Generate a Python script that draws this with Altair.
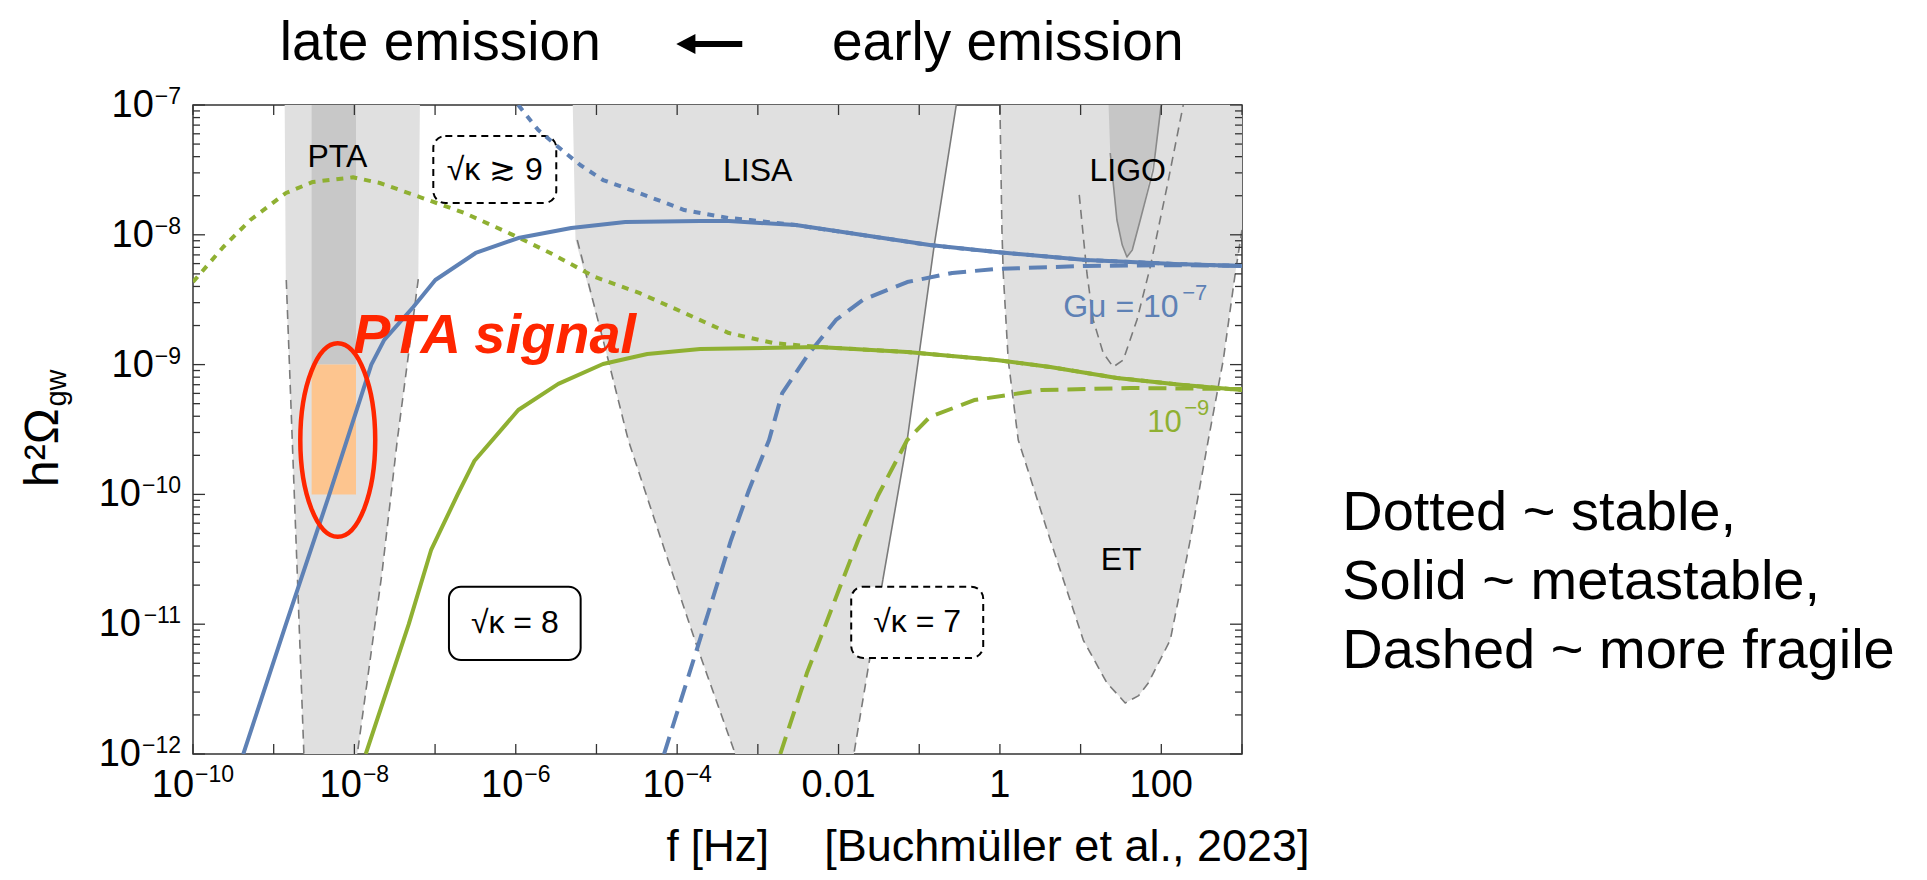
import altair as alt
import numpy as np
import pandas as pd

FONT = "Liberation Sans"
BLUE = "#5e81b5"
GREEN = "#8fb032"
LIGHT = "#e0e0e0"
DARK = "#c8c8c8"
ORANGE = "#fdc58f"
RED = "#ff2600"
EDGE = "#7a7a7a"
FRAME = "#333333"

# ---------------- axis ticks / labels (log10 exponents) ----------------
x_label_exp = [-10, -8, -6, -4, -2, 0, 2]
x_label_base = ["10", "10", "10", "10", "0.01", "1", "100"]
x_label_sup = ["−10", "−8", "−6", "−4", "", "", ""]
y_label_exp = [-12, -11, -10, -9, -8, -7]
y_label_base = ["10", "10", "10", "10", "10", "10"]
y_label_sup = ["−12", "−11", "−10", "−9", "−8", "−7"]
x_tick_exp = list(range(-10, 4))
y_tick_exp = list(range(-12, -6))
y_minor_mult = [2, 3, 4, 5, 6, 7, 8, 9]

# ---------------- curves (log10 f, log10 h^2 Omega) ----------------
blue_solid_x = [-9.377, -8.848, -8.310, -7.790, -7.630, -7.270, -6.997, -6.497, -5.969, -5.312,
                -4.643, -3.714, -3.359, -2.530, -1.700, -0.870, -0.046, 1.066, 2.172, 3.0]
blue_solid_y = [-12.0, -11.0, -10.0, -9.0, -8.810, -8.556, -8.348, -8.140, -8.025, -7.948,
                -7.901, -7.894, -7.894, -7.925, -8.002, -8.079, -8.133, -8.194, -8.225, -8.240]

blue_dot_x = [-5.969, -5.721, -5.473, -5.201, -4.919, -4.470, -3.912, -3.359, -3.094, -2.530,
              -1.700, -0.870, -0.046, 1.066, 2.172, 3.0]
blue_dot_y = [-7.0, -7.193, -7.324, -7.462, -7.578, -7.678, -7.809, -7.871, -7.886, -7.925,
              -8.002, -8.079, -8.133, -8.194, -8.225, -8.240]

blue_dash_x = [-4.162, -3.747, -3.332, -3.110, -2.861, -2.698, -2.363, -2.032, -1.700, -1.149,
               -0.591, -0.046, 1.066, 2.172, 3.0]
blue_dash_y = [-12.0, -11.176, -10.351, -9.966, -9.581, -9.219, -8.911, -8.656, -8.502, -8.364,
               -8.294, -8.263, -8.240, -8.233, -8.240]

green_solid_x = [-7.859, -7.326, -7.050, -6.720, -6.514, -5.969, -5.473, -4.919, -4.370, -3.714,
                 -2.252, -1.149, -0.046, 0.623, 1.450, 2.271, 3.0]
green_solid_y = [-12.0, -11.0, -10.430, -10.0, -9.743, -9.350, -9.149, -8.995, -8.918, -8.880,
                 -8.864, -8.903, -8.965, -9.018, -9.103, -9.157, -9.196]

green_dot_x = [-10.0, -9.625, -9.290, -8.848, -8.515, -8.017, -7.685, -7.188, -6.638, -6.031,
               -5.572, -5.020, -4.470, -3.912, -3.359, -2.809, -2.252, -1.149, -0.046, 0.623,
               1.450, 2.271, 3.0]
green_dot_y = [-8.364, -8.094, -7.886, -7.678, -7.593, -7.557, -7.601, -7.709, -7.832, -8.002,
               -8.140, -8.325, -8.448, -8.602, -8.757, -8.834, -8.864, -8.903, -8.965, -9.018,
               -9.103, -9.157, -9.196]

green_dash_x = [-2.722, -2.392, -2.170, -1.949, -1.756, -1.508, -1.149, -0.870, -0.319, 0.512, 1.615, 3.0]
green_dash_y = [-12.0, -11.376, -11.019, -10.659, -10.351, -10.005, -9.581, -9.404, -9.273, -9.196, -9.180, -9.188]

# ---------------- sensitivity regions ----------------
pta_y = [-7.0, -8.345, -9.581, -10.606, -12.0]
pta_l = [-8.864, -8.850, -8.770, -8.708, -8.626]
pta_r = [-7.188, -7.208, -7.468, -7.658, -7.964]

lisa_y = [-7.0, -8.04, -8.965, -9.581, -10.351, -10.659, -11.176, -12.0]
lisa_l = [-5.294, -5.26, -4.854, -4.606, -4.197, -4.03, -3.751, -3.280]
lisa_r = [-0.541, -0.81, -1.012, -1.149, -1.365, -1.451, -1.589, -1.810]

et_y = [-7.0, -7.963, -8.294, -8.965, -9.581, -10.351, -11.122, -11.453, -11.55, -11.607]
et_l = [0.0, 0.025, 0.041, 0.103, 0.227, 0.624, 1.033, 1.326, 1.47, 1.553]
et_r = [3.0, 3.0, 2.917, 2.768, 2.582, 2.359, 2.111, 1.839, 1.72, 1.553]

ligo_y = [-7.0, -7.37, -7.886, -8.079, -8.171]
ligo_l = [1.346, 1.367, 1.450, 1.516, 1.574]
ligo_r = [2.008, 1.926, 1.739, 1.660, 1.574]

# boundary lines
pta_edge_l_x = [-8.844, -8.770, -8.708, -8.626]
pta_edge_l_y = [-8.348, -9.581, -10.606, -12.0]
pta_edge_r_x = [-7.208, -7.468, -7.658, -7.964]
pta_edge_r_y = [-8.341, -9.581, -10.606, -12.0]
lisa_edge_l_x = [-5.238, -4.854, -4.606, -4.197, -3.751, -3.280]
lisa_edge_l_y = [-8.04, -8.965, -9.581, -10.351, -11.176, -12.0]
lisa_edge_r_solid_x = [-0.541, -0.814, -1.149, -1.451]
lisa_edge_r_solid_y = [-7.0, -8.079, -9.581, -10.659]
lisa_edge_r_dash_x = [-1.451, -1.810]
lisa_edge_r_dash_y = [-10.659, -12.0]
et_edge_x = [0.0, 0.025, 0.041, 0.103, 0.227, 0.624, 1.033, 1.326, 1.47, 1.553, 1.72, 1.839,
             2.111, 2.359, 2.582, 2.768, 2.917, 3.0]
et_edge_y = [-7.0, -7.963, -8.294, -8.965, -9.581, -10.351, -11.122, -11.453, -11.55, -11.607,
             -11.55, -11.453, -11.122, -10.351, -9.581, -8.965, -8.294, -7.963]
ligo_edge_x = [1.367, 1.450, 1.516, 1.574, 1.640, 1.739, 1.900, 1.995, 2.008]
ligo_edge_y = [-7.37, -7.886, -8.079, -8.171, -8.117, -7.886, -7.501, -7.015, -7.0]
ligo_dash_x = [0.983, 1.078, 1.156, 1.280, 1.404, 1.528, 1.698, 1.863, 2.070, 2.272]
ligo_dash_y = [-7.693, -8.294, -8.656, -8.911, -9.018, -8.965, -8.656, -8.248, -7.632, -7.0]

# PTA bands
pta_band_x = [-8.53, -7.98]
pta_dark_y = [-9.0, -7.0]
pta_signal_y = [-10.0, -9.0]

# boxes: x1, x2, y1, y2
box9 = [-7.022, -5.498, -7.755, -7.239]
box8 = [-6.828, -5.196, -11.276, -10.711]
box7 = [-1.843, -0.207, -11.260, -10.711]

W, H = 1049, 649
xs = alt.Scale(type="log", domain=[1e-10, 1e3], nice=False)
ys = alt.Scale(type="log", domain=[1e-12, 1e-7], nice=False)

LAB_FS, SUP_FS = 38, 23
BASE_W = 2 * 0.556 * LAB_FS


def sup_w(t):
    return (0.584 + 0.556 * (len(t) - 1)) * SUP_FS


def X(field="f:Q"):
    return alt.X(field, scale=xs, axis=None)


def Y(field="o:Q"):
    return alt.Y(field, scale=ys, axis=None)


def frame(lx, ly):
    return pd.DataFrame({"f": 10.0 ** np.asarray(lx, float), "o": 10.0 ** np.asarray(ly, float),
                         "i": np.arange(len(lx))})


def line(lx, ly, color, dash=None, width=4.0):
    kw = dict(color=color, strokeWidth=width, clip=True, strokeCap="butt", strokeJoin="round")
    if dash:
        kw["strokeDash"] = dash
    return alt.Chart(frame(lx, ly)).mark_line(**kw).encode(x=X(), y=Y(), order="i:Q")


def area(ly, l, r, color):
    df = pd.DataFrame({"o": 10.0 ** np.asarray(ly, float), "fl": 10.0 ** np.asarray(l, float),
                       "fr": 10.0 ** np.asarray(r, float)})
    return alt.Chart(df).mark_area(orient="horizontal", color=color, clip=True, opacity=1).encode(
        y=Y(), x=alt.X("fl:Q", scale=xs, axis=None, stack=None), x2="fr:Q")


def rect(b, **style):
    df = pd.DataFrame({"f": [10.0 ** b[0]], "f2": [10.0 ** b[1]], "o": [10.0 ** b[2]], "o2": [10.0 ** b[3]]})
    return alt.Chart(df).mark_rect(**style).encode(x=X(), x2="f2:Q", y=Y(), y2="o2:Q")


def text(items, size, color="black", align="center", baseline="middle", weight="normal",
         style="normal", angle=0):
    df = pd.DataFrame({"f": [10.0 ** a for a, _, _ in items], "o": [10.0 ** b for _, b, _ in items],
                       "t": [t for _, _, t in items]})
    return alt.Chart(df).mark_text(font=FONT, fontSize=size, color=color, align=align, baseline=baseline,
                                   fontWeight=weight, fontStyle=style, angle=angle).encode(
        x=X(), y=Y(), text="t:N")


layers = []

# regions
layers.append(area(pta_y, pta_l, pta_r, LIGHT))
layers.append(area(lisa_y, lisa_l, lisa_r, LIGHT))
layers.append(area(et_y, et_l, et_r, LIGHT))
layers.append(rect([pta_band_x[0], pta_band_x[1], pta_dark_y[0], pta_dark_y[1]], color=DARK))
layers.append(rect([pta_band_x[0], pta_band_x[1], pta_signal_y[0], pta_signal_y[1]], color=ORANGE))
layers.append(area(ligo_y, ligo_l, ligo_r, "#c6c6c6"))

# region edges
for ex, ey in [(pta_edge_l_x, pta_edge_l_y), (pta_edge_r_x, pta_edge_r_y), (lisa_edge_l_x, lisa_edge_l_y),
               (lisa_edge_r_dash_x, lisa_edge_r_dash_y), (et_edge_x, et_edge_y), (ligo_dash_x, ligo_dash_y)]:
    layers.append(line(ex, ey, EDGE, dash=[9, 6], width=1.6))
layers.append(line(lisa_edge_r_solid_x, lisa_edge_r_solid_y, EDGE, width=1.6))
layers.append(line(ligo_edge_x, ligo_edge_y, "#8a8a8a", width=1.6))

# frame ticks
xt = pd.DataFrame({"f": [10.0 ** k for k in x_tick_exp]})
layers.append(alt.Chart(xt).mark_rule(color=FRAME, strokeWidth=1.3).encode(
    x=X(), y=alt.value(H), y2=alt.value(H - 10)))
layers.append(alt.Chart(xt).mark_rule(color=FRAME, strokeWidth=1.3).encode(
    x=X(), y=alt.value(0), y2=alt.value(10)))
yt = pd.DataFrame({"o": [10.0 ** k for k in y_tick_exp]})
ym = pd.DataFrame({"o": [m * 10.0 ** k for k in y_tick_exp[:-1] for m in y_minor_mult]})
for d, ln in [(yt, 12), (ym, 7)]:
    layers.append(alt.Chart(d).mark_rule(color=FRAME, strokeWidth=1.3).encode(
        y=Y(), x=alt.value(0), x2=alt.value(ln)))
    layers.append(alt.Chart(d).mark_rule(color=FRAME, strokeWidth=1.3).encode(
        y=Y(), x=alt.value(W), x2=alt.value(W - ln)))

# ---- x tick labels: base "10" + superscript exponent, centred on the tick
X_BASE_Y = H + 43
X_SUP_Y = H + 28
plain = pd.DataFrame({"f": [10.0 ** e for e, s in zip(x_label_exp, x_label_sup) if not s],
                      "t": [b for b, s in zip(x_label_base, x_label_sup) if not s]})
layers.append(alt.Chart(plain).mark_text(font=FONT, fontSize=LAB_FS, color="black", align="center",
                                         baseline="alphabetic").encode(x=X(), y=alt.value(X_BASE_Y), text="t:N"))
for n in sorted(set(len(s) for s in x_label_sup if s)):
    sel = [(e, b, s) for e, b, s in zip(x_label_exp, x_label_base, x_label_sup) if s and len(s) == n]
    total = BASE_W + 1 + sup_w(sel[0][2])
    bdx = BASE_W - total / 2
    db = pd.DataFrame({"f": [10.0 ** e for e, _, _ in sel], "t": [b for _, b, _ in sel]})
    ds = pd.DataFrame({"f": [10.0 ** e for e, _, _ in sel], "t": [s for _, _, s in sel]})
    layers.append(alt.Chart(db).mark_text(font=FONT, fontSize=LAB_FS, color="black", align="right",
                                          baseline="alphabetic", dx=bdx).encode(
        x=X(), y=alt.value(X_BASE_Y), text="t:N"))
    layers.append(alt.Chart(ds).mark_text(font=FONT, fontSize=SUP_FS, color="black", align="left",
                                          baseline="alphabetic", dx=bdx + 1).encode(
        x=X(), y=alt.value(X_SUP_Y), text="t:N"))

# ---- y tick labels: right-aligned, exponent at the right
for n in sorted(set(len(s) for s in y_label_sup)):
    sel = [(e, b, s) for e, b, s in zip(y_label_exp, y_label_base, y_label_sup) if len(s) == n]
    db = pd.DataFrame({"o": [10.0 ** e for e, _, _ in sel], "t": [b for _, b, _ in sel]})
    ds = pd.DataFrame({"o": [10.0 ** e for e, _, _ in sel], "t": [s for _, _, s in sel]})
    layers.append(alt.Chart(ds).mark_text(font=FONT, fontSize=SUP_FS, color="black", align="right",
                                          baseline="alphabetic", dy=-1).encode(
        y=Y(), x=alt.value(-12), text="t:N"))
    layers.append(alt.Chart(db).mark_text(font=FONT, fontSize=LAB_FS, color="black", align="right",
                                          baseline="alphabetic", dy=12).encode(
        y=Y(), x=alt.value(-13 - sup_w(sel[0][2])), text="t:N"))

# boxes
layers.append(rect(box9, fill="white", stroke="black", strokeWidth=2, strokeDash=[7, 5], cornerRadius=12))
layers.append(rect(box8, fill="white", stroke="black", strokeWidth=2, cornerRadius=12))
layers.append(rect(box7, fill="white", stroke="black", strokeWidth=2, strokeDash=[7, 5], cornerRadius=12))

# curves
layers.append(line(green_dot_x, green_dot_y, GREEN, dash=[7, 7]))
layers.append(line(blue_dot_x, blue_dot_y, BLUE, dash=[7, 7]))
layers.append(line(green_dash_x, green_dash_y, GREEN, dash=[18, 9]))
layers.append(line(blue_dash_x, blue_dash_y, BLUE, dash=[18, 9]))
layers.append(line(green_solid_x, green_solid_y, GREEN))
layers.append(line(blue_solid_x, blue_solid_y, BLUE))

# PTA signal ellipse
ellipse = ("M0,-1 C0.2138,-1 0.387,-0.5523 0.387,0 C0.387,0.5523 0.2138,1 0,1 "
           "C-0.2138,1 -0.387,0.5523 -0.387,0 C-0.387,-0.5523 -0.2138,-1 0,-1 Z")
layers.append(alt.Chart(frame([-8.206], [-9.581])).mark_point(
    shape=ellipse, size=37480, filled=False, color=RED, strokeWidth=4.5, opacity=1).encode(x=X(), y=Y()))

# annotations
layers.append(text([(-8.21, -7.397, "PTA"), (-3.001, -7.508, "LISA"), (1.584, -7.512, "LIGO"),
                    (1.503, -10.505, "ET")], 32))
layers.append(text([(-6.26, -7.497, "√κ ≳ 9"), (-6.012, -10.99, "√κ = 8"), (-1.025, -10.983, "√κ = 7")], 32))
layers.append(text([(-8.017, -8.911, "PTA signal")], 56, color=RED, align="left", baseline="alphabetic",
                   weight="bold", style="italic"))
layers.append(text([(0.784, -8.633, "Gμ = 10")], 32, color=BLUE, align="left", baseline="alphabetic"))
layers.append(text([(2.259, -8.502, "−7")], 22, color=BLUE, align="left", baseline="alphabetic"))
layers.append(text([(1.825, -9.519, "10")], 31, color=GREEN, align="left", baseline="alphabetic"))
layers.append(text([(2.283, -9.388, "−9")], 22, color=GREEN, align="left", baseline="alphabetic"))

# outer texts
layers.append(text([(-6.936, -6.653, "late emission"), (0.097, -6.653, "early emission")], 55,
                   baseline="alphabetic"))
arrow = "M-1,0 L-0.42,-0.3 L-0.42,-0.09 L1,-0.09 L1,0.09 L-0.42,0.09 L-0.42,0.3 Z"
layers.append(alt.Chart(frame([-3.602], [-6.530])).mark_point(
    shape=arrow, size=4356, filled=True, color="black", opacity=1, strokeWidth=0).encode(x=X(), y=Y()))
layers.append(text([(4.242, -10.274, "Dotted ~ stable,"), (4.242, -10.806, "Solid ~ metastable,"),
                    (4.242, -11.337, "Dashed ~ more fragile")], 56, align="left", baseline="alphabetic"))
layers.append(text([(-3.497, -12.825, "f [Hz]")], 44, baseline="alphabetic"))
layers.append(text([(-2.177, -12.825, "[Buchmüller et al., 2023]")], 45, align="left", baseline="alphabetic"))
layers.append(text([(-11.669, -9.943, "h²Ω")], 48, align="left", baseline="alphabetic", angle=270))
layers.append(text([(-11.570, -9.323, "gw")], 29, align="left", baseline="alphabetic", angle=270))

chart = alt.layer(*layers).properties(
    width=W, height=H,
    padding={"left": 185, "top": 97, "right": 677, "bottom": 118},
    autosize=alt.AutoSizeParams(type="none"),
    background="white",
).configure_view(stroke=FRAME, strokeWidth=1.5)

chart.save("out.html", embed_options={"renderer": "svg", "actions": False})
